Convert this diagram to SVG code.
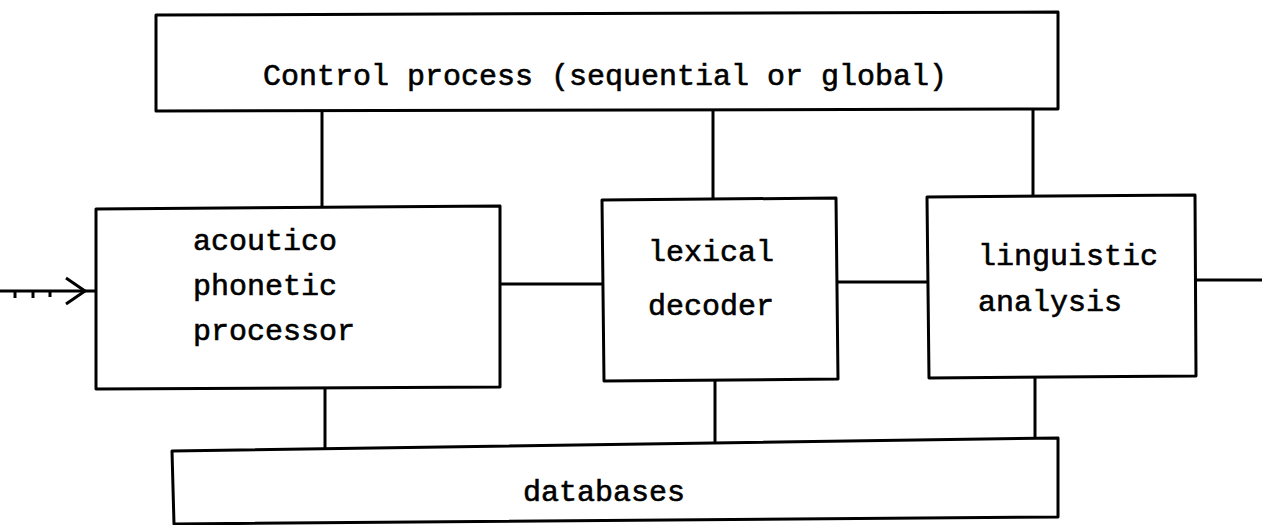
<svg xmlns="http://www.w3.org/2000/svg" width="1262" height="525" viewBox="0 0 1262 525">
  <style>
    .box { fill: #ffffff; stroke: #000000; stroke-width: 3; stroke-linejoin: round; }
    .wire { fill: none; stroke: #000000; stroke-width: 3; stroke-linecap: butt; }
    .label { font-family: "Liberation Mono", "DejaVu Sans Mono", monospace; font-size: 30px; fill: #000000; stroke: #000000; stroke-width: 0.6; }
  </style>
  <rect width="1262" height="525" fill="#ffffff"/>

  <!-- links between the blocks -->
  <g id="connectors">
    <!-- control process down to the three processors -->
    <line class="wire" x1="322" y1="110" x2="322" y2="208"/>
    <line class="wire" x1="713" y1="110" x2="713" y2="200"/>
    <line class="wire" x1="1033" y1="110" x2="1033" y2="197"/>
    <!-- processing chain -->
    <line class="wire" x1="500" y1="284" x2="602" y2="284"/>
    <line class="wire" x1="837" y1="282" x2="928" y2="282"/>
    <line class="wire" x1="1195" y1="280" x2="1262" y2="280"/>
    <!-- processors down to the databases -->
    <line class="wire" x1="325" y1="389" x2="325" y2="450"/>
    <line class="wire" x1="715" y1="380" x2="715" y2="445"/>
    <line class="wire" x1="1035" y1="377" x2="1035" y2="440"/>
    <!-- speech input arrow with feathered tail -->
    <g id="input-arrow">
      <line class="wire" x1="0" y1="291" x2="96" y2="291" stroke-width="4"/>
      <path class="wire" d="M66 278 L85 291 L66 304" stroke-width="4"/>
      <line class="wire" x1="15" y1="291" x2="15" y2="298" stroke-width="2"/>
      <line class="wire" x1="33" y1="291" x2="33" y2="298" stroke-width="2"/>
      <line class="wire" x1="50" y1="291" x2="50" y2="297" stroke-width="2"/>
    </g>
  </g>

  <g id="control">
    <path class="box" d="M156 15 L1058 12 L1058 109 L156 111 Z"/>
    <text class="label" x="263" y="85">Control process (sequential or global)</text>
  </g>

  <g id="acoustic-phonetic">
    <path class="box" d="M96 209 L500 206 L500 387 L96 389 Z"/>
    <text class="label" x="193" y="250">acoutico</text>
    <text class="label" x="193" y="295">phonetic</text>
    <text class="label" x="193" y="340">processor</text>
  </g>

  <g id="lexical">
    <path class="box" d="M602 200 L836 198 L838 379 L604 381 Z"/>
    <text class="label" x="648" y="261">lexical</text>
    <text class="label" x="648" y="315">decoder</text>
  </g>

  <g id="linguistic">
    <path class="box" d="M927 197 L1195 195 L1196 376 L929 378 Z"/>
    <text class="label" x="978" y="265">linguistic</text>
    <text class="label" x="978" y="311">analysis</text>
  </g>

  <g id="databases">
    <path class="box" d="M172 451 L1058 438 L1058 517 L174 524 Z"/>
    <text class="label" x="523" y="501">databases</text>
  </g>
</svg>
